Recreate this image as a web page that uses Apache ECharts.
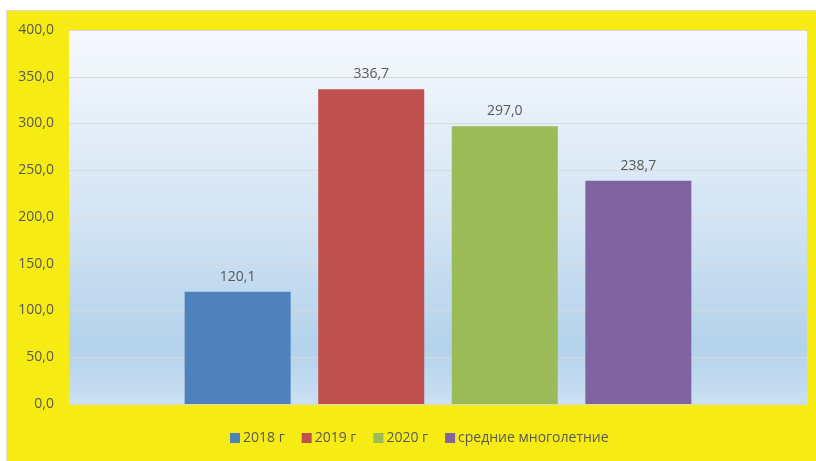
<!DOCTYPE html>
<html>
<head>
<meta charset="utf-8">
<script src="https://cdn.jsdelivr.net/npm/echarts@6/dist/echarts.min.js"></script>
<style>
html,body{margin:0;padding:0;background:#fff;width:816px;height:461px;overflow:hidden;}
#frame{position:absolute;left:6px;top:10px;width:810px;height:451px;background:#f6eb12;border-left:1px solid #dcdcdc;border-top:1px solid #dcdcdc;box-sizing:border-box;}
#chart{position:absolute;left:0;top:0;width:816px;height:461px;}
</style>
</head>
<body>
<div id="frame"></div>
<div id="chart"></div>
<script>
const categories = [''];
const seriesNames = ['2018 г', '2019 г', '2020 г', 'средние многолетние'];
const seriesValues = [120.1, 336.7, 297.0, 238.7];
const seriesColors = ['#4f81bd', '#c0504d', '#9bbb59', '#8064a2'];
const yTicks = { min: 0, max: 400, interval: 50 };

const fmt = v => Number(v).toFixed(1).replace('.', ',');
const FONT = '"Open Sans", "Liberation Sans", sans-serif';

const chart = echarts.init(document.getElementById('chart'), null, { renderer: 'canvas' });
chart.setOption({
  backgroundColor: 'transparent',
  animation: false,
  textStyle: { fontFamily: FONT },
  legend: {
    bottom: 11,
    left: 225,
    itemWidth: 10,
    itemHeight: 10,
    itemGap: 17,
    icon: 'rect',
    textStyle: { color: '#595959', fontSize: 14, fontFamily: FONT, padding: [0, 0, 0, -2] },
    data: seriesNames
  },
  grid: {
    left: 69, right: 9, top: 30, bottom: 57,
    show: true,
    borderWidth: 0,
    backgroundColor: new echarts.graphic.LinearGradient(0, 0, 0, 1, [
      { offset: 0, color: '#f6f9fd' },
      { offset: 0.5, color: '#d3e4f4' },
      { offset: 0.85, color: '#b3d2eb' },
      { offset: 1, color: '#cbe0f3' }
    ])
  },
  xAxis: {
    type: 'category',
    data: categories,
    axisLine: { show: true, lineStyle: { color: '#d9d9d9' } },
    axisTick: { show: false },
    axisLabel: { show: false }
  },
  yAxis: {
    type: 'value',
    min: yTicks.min, max: yTicks.max, interval: yTicks.interval,
    axisLine: { show: false },
    axisTick: { show: false },
    axisLabel: { color: '#595959', fontSize: 14, fontFamily: FONT, margin: 15, formatter: fmt },
    splitLine: { lineStyle: { color: '#d9d9d9', width: 1 } }
  },
  series: seriesNames.map((name, i) => ({
    name: name,
    type: 'bar',
    barWidth: 106,
    barGap: '26%',
    itemStyle: { color: seriesColors[i] },
    label: {
      show: true, position: 'top', distance: 8,
      color: '#595959', fontSize: 14, fontFamily: FONT,
      formatter: p => fmt(p.value)
    },
    data: [seriesValues[i]]
  }))
});
</script>
</body>
</html>
